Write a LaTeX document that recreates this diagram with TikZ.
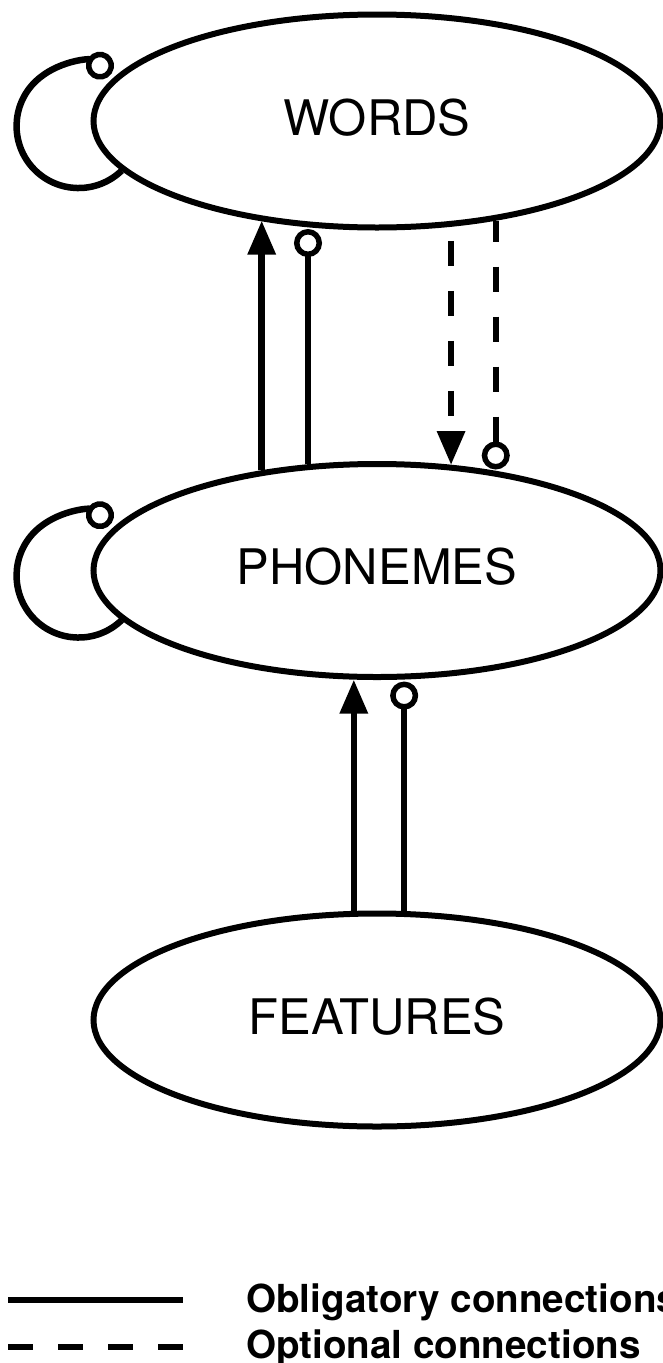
\documentclass[tikz,border=0pt]{standalone}
\usepackage{fontspec}
\setmainfont{TeX Gyre Heros}
\usetikzlibrary{shapes.geometric,arrows.meta,positioning}

\begin{document}
\begin{tikzpicture}[x=1pt,y=-1pt,on grid,node distance=449.5pt,
   level/.style={ellipse,draw,line width=6pt,minimum width=567pt,minimum height=213pt,
     inner sep=0pt,text depth=8pt,font=\fontsize{49}{59}\selectfont},
   link/.style={line width=6.5pt},
   opt/.style={link,dash pattern=on 25pt off 25pt},
   tri/.style={-{Triangle[length=34pt,width=27pt]}},
   ring/.style={-{Circle[open,length=28pt,width=28pt,line width=5.5pt]},shorten >=2pt},
   legend/.style={anchor=base west,inner sep=0pt,font=\bfseries\fontsize{38.6}{46}\selectfont}]
   \useasboundingbox (0,0) rectangle (662,1363);

   \node[level] (words) at (377,121) {WORDS};
   \node[level] (phonemes) [below=of words] {PHONEMES};
   \node[level] (features) [below=of phonemes] {FEATURES};

   % self loops
   \draw[link,ring] (words.191) arc[start angle=-46,end angle=-304,radius=62pt];
   \draw[link,ring] (phonemes.191) arc[start angle=-46,end angle=-304,radius=62pt];

   % words <-> phonemes
   \draw[link,tri] (phonemes.139.9) -- (phonemes.139.9 |- words.220.1);
   \draw[link,ring] (phonemes.123.5) -- (phonemes.123.5 |- words.236.5);
   \draw[opt,tri,dash phase=36pt] (words.305.1) -- (words.305.1 |- phonemes.54.9);
   \draw[opt,ring,dash phase=4pt] (words.320.8) -- (words.320.8 |- phonemes.39.2);

   % features -> phonemes
   \draw[link,tri] (features.102) -- (features.102 |- phonemes.258);
   \draw[link,ring] (features.76.5) -- (features.76.5 |- phonemes.283.5);

   % legend
   \coordinate (solidL) at (8,1300);
   \coordinate (solidR) at (183,1300);
   \coordinate (dashL) at (8,1347);
   \coordinate (dashR) at (183,1347);
   \draw[link] (solidL) -- (solidR);
   \draw[opt] (dashL) -- (dashR);
   \node[legend] (oblig) at (246,1312) {Obligatory connections};
   \node[legend] (option) at (246,1358) {Optional connections};
\end{tikzpicture}
\end{document}
